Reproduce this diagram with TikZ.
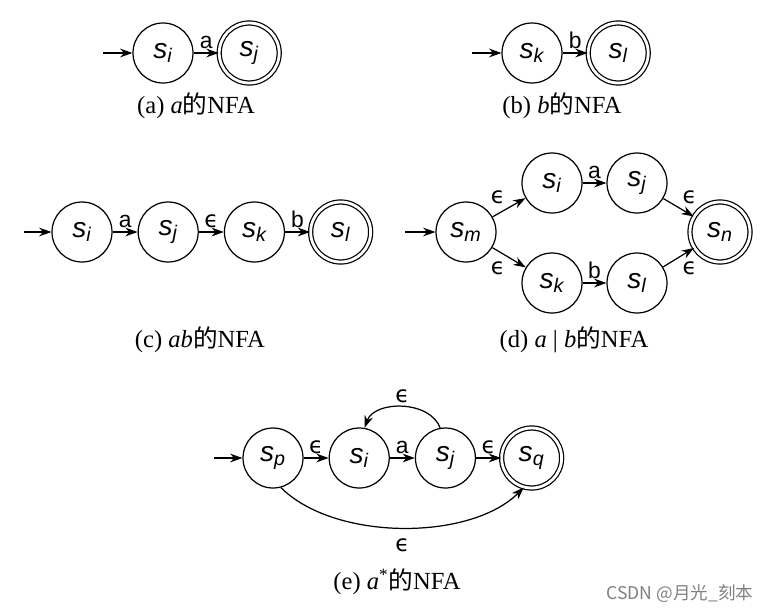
\documentclass[tikz,border=0pt]{standalone}
\usepackage{fontspec}
\setmainfont{Liberation Serif}
\setsansfont{Liberation Sans}
\newfontfamily\cjk{Noto Sans CJK SC}
\newfontfamily\epsfont{DejaVu Sans}
\usetikzlibrary{positioning,arrows.meta}
\newcommand{\nst}[1]{{\sffamily\itshape s\textsubscript{#1}}}
\newcommand{\dechar}{{\cjk 的}}
\newcommand{\eps}{{\epsfont ϵ}}

\begin{document}
\begin{tikzpicture}[
    x=0.02cm, y=-0.02cm,
    node distance=0.5cm,
    nfastate/.style={circle, draw, line width=0.7pt, minimum size=1.2cm, inner sep=0pt, font=\fontsize{16}{16}\selectfont},
    accept/.style={nfastate, double, double distance=1.6pt},
    arr/.style={-{Stealth[length=7pt,width=5pt]}, line width=0.7pt},
    lbl/.style={font=\fontsize{13}{13}\selectfont\sffamily, inner sep=2pt},
    captext/.style={font=\fontsize{14}{16}\selectfont}
  ]
    \useasboundingbox (0,0) rectangle (770,612);

    % (a)
    \node[nfastate] (ai) at (163,53) {\nst{i}};
    \node[accept, right=of ai] (aj) {\nst{j}};
    \coordinate (a0) at (103,53);
    \draw[arr] (a0) -- (ai);
    \draw[arr] (ai) -- node[lbl, above] {a} (aj);
    \node[captext] (acap) at (196,106) {(a) \textit{a}\dechar NFA};

    % (b)
    \node[nfastate] (bk) at (532,53) {\nst{k}};
    \node[accept, right=of bk] (bl) {\nst{l}};
    \coordinate (b0) at (472,53);
    \draw[arr] (b0) -- (bk);
    \draw[arr] (bk) -- node[lbl, above] {b} (bl);
    \node[captext] (bcap) at (562,106) {(b) \textit{b}\dechar NFA};

    % (c)
    \node[nfastate] (ci) at (82,232) {\nst{i}};
    \node[nfastate, right=of ci] (cj) {\nst{j}};
    \node[nfastate, right=of cj] (ck) {\nst{k}};
    \node[accept, right=of ck] (cl) {\nst{l}};
    \coordinate (c0) at (24,232);
    \draw[arr] (c0) -- (ci);
    \draw[arr] (ci) -- node[lbl, above] {a} (cj);
    \draw[arr] (cj) -- node[lbl, above] {\eps} (ck);
    \draw[arr] (ck) -- node[lbl, above] {b} (cl);
    \node[captext] (ccap) at (200,340) {(c) \textit{ab}\dechar NFA};

    % (d)
    \node[nfastate] (dm) at (466,232) {\nst{m}};
    \node[nfastate] (di) at (552,183) {\nst{i}};
    \node[nfastate] (dj) at (637,183) {\nst{j}};
    \node[nfastate] (dk) at (552,283) {\nst{k}};
    \node[nfastate] (dl) at (637,283) {\nst{l}};
    \node[accept] (dn) at (720,232) {\nst{n}};
    \coordinate (d0) at (405,232);
    \draw[arr] (d0) -- (dm);
    \draw[arr] (dm) -- node[lbl, above left] {\eps} (di);
    \draw[arr] (dm) -- node[lbl, below left] {\eps} (dk);
    \draw[arr] (di) -- node[lbl, above] {a} (dj);
    \draw[arr] (dk) -- node[lbl, above] {b} (dl);
    \draw[arr] (dj) -- node[lbl, above right] {\eps} (dn);
    \draw[arr] (dl) -- node[lbl, below right] {\eps} (dn);
    \node[captext] (dcap) at (574,340) {(d) \textit{a} | \textit{b}\dechar NFA};

    % (e)
    \node[nfastate] (ep) at (273,458) {\nst{p}};
    \node[nfastate, right=of ep] (ei) {\nst{i}};
    \node[nfastate, right=of ei] (ej) {\nst{j}};
    \node[accept, right=of ej] (eq) {\nst{q}};
    \coordinate (e0) at (214,458);
    \draw[arr] (e0) -- (ep);
    \draw[arr] (ep) -- node[lbl, above] {\eps} (ei);
    \draw[arr] (ei) -- node[lbl, above] {a} (ej);
    \draw[arr] (ej) -- node[lbl, above] {\eps} (eq);
    \draw[arr] (ej.100) to[out=110, in=70] node[lbl, above] {\eps} (ei.80);
    \draw[arr] (ep.-75) to[out=-45, in=-135, looseness=0.8] node[lbl, below=4pt] {\eps} (eq.-105);
    \node[captext] (ecap) at (397,582) {(e) \textit{a}\textsuperscript{*}\dechar NFA};

    % watermark
    \node[font=\fontsize{10}{10}\cjk, text=gray] (mark) at (680,594) {CSDN @月光\_刻本};
\end{tikzpicture}
\end{document}
